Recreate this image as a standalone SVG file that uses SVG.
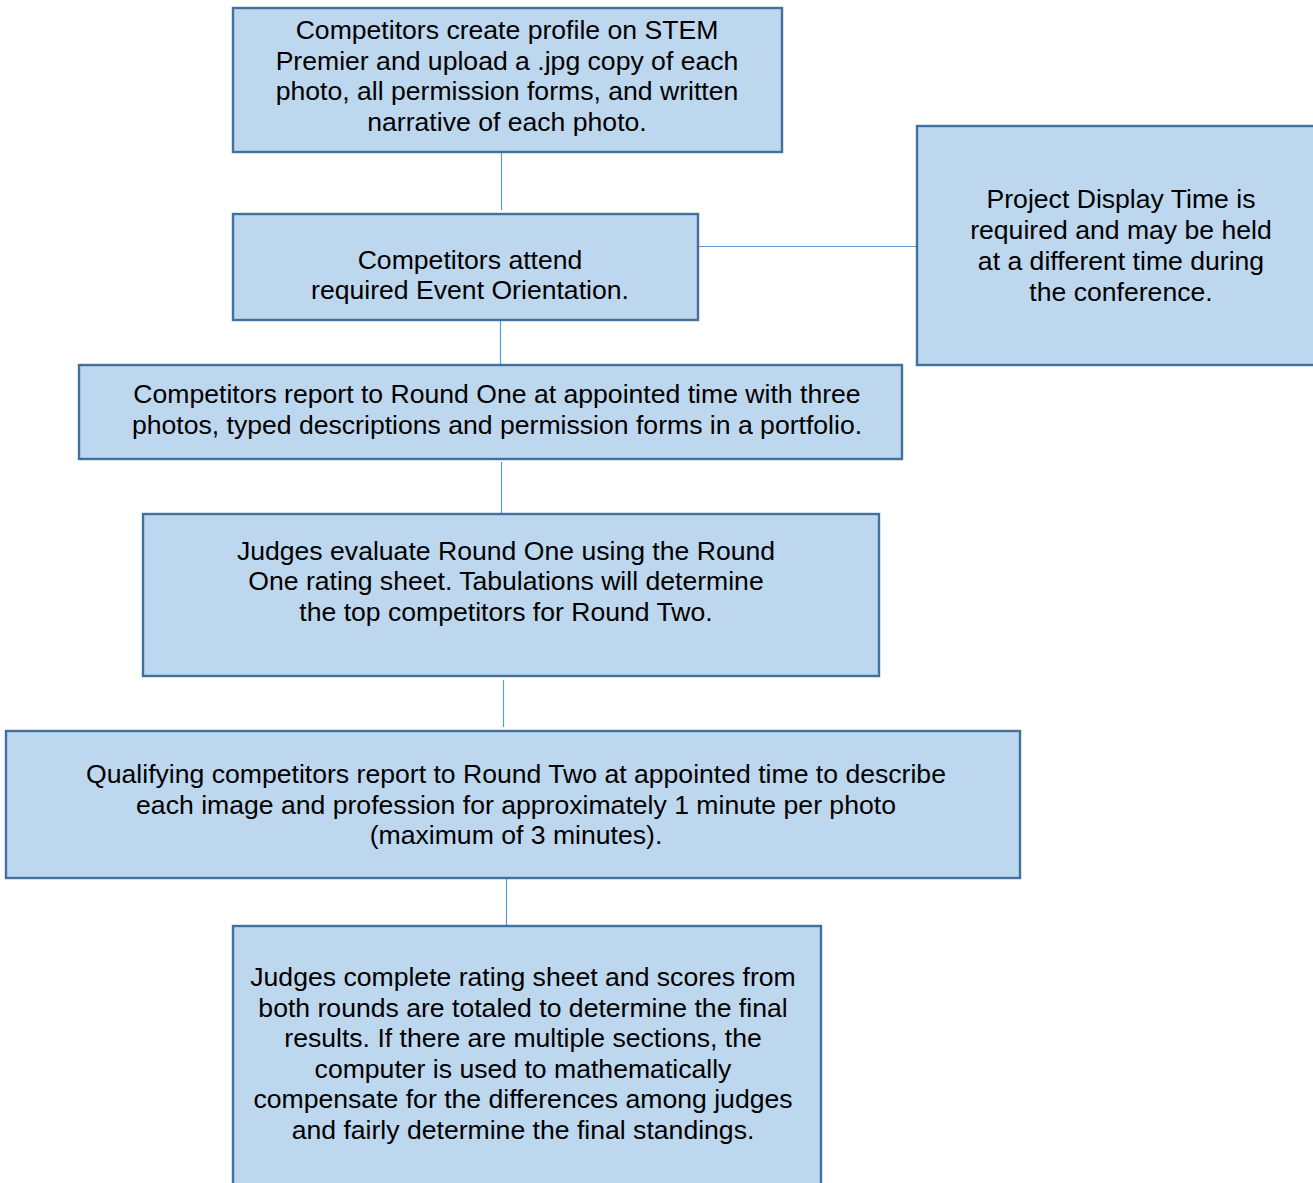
<svg xmlns="http://www.w3.org/2000/svg" width="1313" height="1183" viewBox="0 0 1313 1183">
<style>
.box{fill:#BDD7EE;stroke:#41719C;stroke-width:2.4}
.t{font-family:"Liberation Sans",Arial,sans-serif;font-size:26.6px;fill:#000;text-anchor:middle}
.c{stroke:#5B9BD5;stroke-width:1.2;fill:none}
</style>
<rect width="1313" height="1183" fill="#fff"/>
<g id="connectors">
<line class="c" x1="501.5" y1="148" x2="501.5" y2="210"/>
<line class="c" x1="500.5" y1="316" x2="500.5" y2="364"/>
<line class="c" x1="501.5" y1="462" x2="501.5" y2="513"/>
<line class="c" x1="503.5" y1="680" x2="503.5" y2="727"/>
<line class="c" x1="506.5" y1="878" x2="506.5" y2="926"/>
<line class="c" x1="698" y1="246.5" x2="917" y2="246.5"/>
</g>
<g id="n1">
<rect class="box" x="233" y="8" width="549" height="144"/>
<text class="t"><tspan x="507" y="39">Competitors create profile on STEM</tspan><tspan x="507" y="70">Premier and upload a .jpg copy of each</tspan><tspan x="507" y="100">photo, all permission forms, and written</tspan><tspan x="507" y="131">narrative of each photo.</tspan></text>
</g>
<g id="n2">
<rect class="box" x="233" y="214" width="465" height="106"/>
<text class="t"><tspan x="470" y="269">Competitors attend</tspan><tspan x="470" y="299">required Event Orientation.</tspan></text>
</g>
<g id="n_side">
<rect class="box" x="917" y="126" width="400" height="239"/>
<text class="t"><tspan x="1121" y="208">Project Display Time is</tspan><tspan x="1121" y="239">required and may be held</tspan><tspan x="1121" y="270">at a different time during</tspan><tspan x="1121" y="301">the conference.</tspan></text>
</g>
<g id="n3">
<rect class="box" x="79" y="365" width="823" height="94"/>
<text class="t"><tspan x="497" y="403">Competitors report to Round One at appointed time with three</tspan><tspan x="497" y="434">photos, typed descriptions and permission forms in a portfolio.</tspan></text>
</g>
<g id="n4">
<rect class="box" x="143" y="514" width="736" height="162"/>
<text class="t"><tspan x="506" y="560">Judges evaluate Round One using the Round</tspan><tspan x="506" y="590">One rating sheet. Tabulations will determine</tspan><tspan x="506" y="621">the top competitors for Round Two.</tspan></text>
</g>
<g id="n5">
<rect class="box" x="6" y="731" width="1014" height="147"/>
<text class="t"><tspan x="516" y="783">Qualifying competitors report to Round Two at appointed time to describe</tspan><tspan x="516" y="814">each image and profession for approximately 1 minute per photo</tspan><tspan x="516" y="844">(maximum of 3 minutes).</tspan></text>
</g>
<g id="n6">
<rect class="box" x="233" y="926" width="588" height="270"/>
<text class="t"><tspan x="523" y="986">Judges complete rating sheet and scores from</tspan><tspan x="523" y="1017">both rounds are totaled to determine the final</tspan><tspan x="523" y="1047">results. If there are multiple sections, the</tspan><tspan x="523" y="1078">computer is used to mathematically</tspan><tspan x="523" y="1108">compensate for the differences among judges</tspan><tspan x="523" y="1139">and fairly determine the final standings.</tspan></text>
</g>
</svg>
